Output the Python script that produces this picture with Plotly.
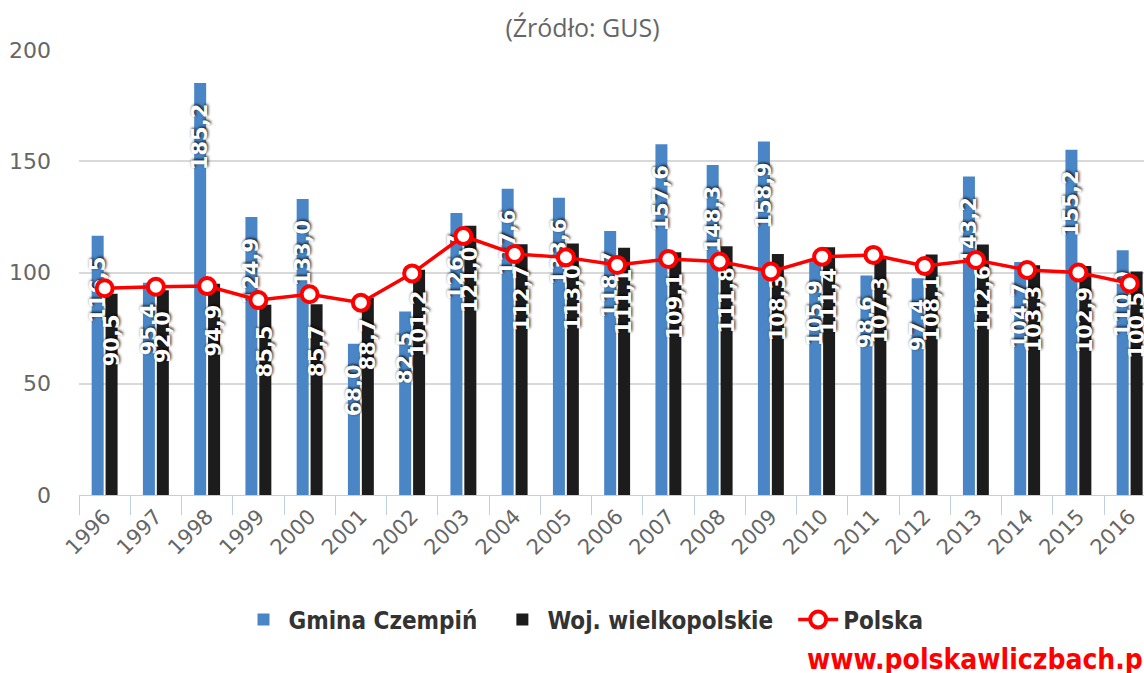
import plotly.graph_objects as go

years = [str(y) for y in range(1996, 2017)]
gmina = [116.5, 95.4, 185.2, 124.9, 133.0, 68.0, 82.5, 126.7, 137.6, 133.6, 118.7,
         157.6, 148.3, 158.9, 105.9, 98.6, 97.4, 143.2, 104.7, 155.2, 110.0]
woj = [90.5, 92.0, 94.9, 85.5, 85.7, 88.7, 101.2, 121.0, 112.7, 113.0, 111.1,
       109.1, 111.8, 108.3, 111.4, 107.3, 108.1, 112.6, 103.3, 102.9, 100.5]
polska = [92.9, 93.6, 93.9, 87.6, 90.2, 86.4, 99.6, 116.4, 108.3, 106.8, 103.4,
          106.1, 104.9, 100.4, 107.1, 107.9, 102.9, 105.6, 101.1, 100.0, 95.1]

PAD = "\u2002\u00a0"

def lab(vals):
    return [f"{v:.1f}".replace(".", ",") + PAD for v in vals]

label_font = dict(family="DejaVu Sans", size=21, color="white", weight="bold",
                  shadow="1px 1px 3px rgba(0,0,0,0.95)")

W, H = 1144, 673
L, T, B = 79, 50, 178

fig = go.Figure()
fig.add_trace(go.Bar(
    x=years, y=gmina, name="Gmina Czempiń\u00a0\u00a0",
    marker=dict(color="#4a86c6", line=dict(width=0)),
    text=lab(gmina), textposition="inside", insidetextanchor="end",
    textangle=-90, constraintext="none", insidetextfont=label_font,
    hoverinfo="x+y",
))
fig.add_trace(go.Bar(
    x=years, y=woj, name="Woj. wielkopolskie\u00a0\u00a0",
    marker=dict(color="#1c1c1c", line=dict(width=0)),
    text=lab(woj), textposition="inside", insidetextanchor="end",
    textangle=-90, constraintext="none", insidetextfont=label_font,
    hoverinfo="x+y",
))
fig.add_trace(go.Scatter(
    x=years, y=polska, name="Polska", mode="lines+markers",
    line=dict(color="#ff0000", width=3.5),
    marker=dict(symbol="circle", size=16, color="white",
                line=dict(color="#ff0000", width=4)),
))

pw = W - L
ph = H - T - B
fig.update_layout(
    width=W, height=H,
    margin=dict(l=L, r=0, t=T, b=B),
    paper_bgcolor="white", plot_bgcolor="white",
    barmode="group", bargap=0.457, bargroupgap=0.137,
    font=dict(family="DejaVu Sans", color="#666666"),
    title=dict(text="(Źródło: GUS)", x=582.5 / W, xanchor="center",
               y=1 - 28 / H, yanchor="middle",
               font=dict(family="Open Sans", size=25, color="#666666")),
    showlegend=True,
    legend=dict(orientation="h", x=(583.5 - 79) / pw, xanchor="center",
                y=(495 - 620) / ph, yanchor="middle",
                font=dict(family="DejaVu Sans Condensed", size=24, color="#333333", weight="bold"),
                itemwidth=40, traceorder="normal"),
    xaxis=dict(type="category", range=[-0.5, 20.28], tickson="boundaries",
               ticks="outside", ticklen=19, tickcolor="#c0d0e0", tickwidth=1,
               showline=True, linecolor="#c0d0e0", linewidth=1,
               tickangle=-45, tickfont=dict(family="DejaVu Sans", size=21, color="#666666"),
               showgrid=False),
    yaxis=dict(range=[0, 200], dtick=50, showgrid=True, gridcolor="#d9d9d9", gridwidth=1.5,
               zeroline=False, showline=False, ticks="",
               ticklabelstandoff=27,
               tickfont=dict(family="DejaVu Sans", size=22, color="#666666")),
    annotations=[dict(text="www.polskawliczbach.pl", xref="paper", yref="paper",
                      x=(805 - 79) / pw, xanchor="left", y=(495 - 659) / ph, yanchor="middle",
                      showarrow=False,
                      font=dict(family="DejaVu Sans Condensed", size=28, color="#ff0000", weight="bold"))],
)

fig.write_html("out.html", config={"displayModeBar": False},
               post_script="document.body.style.margin='0';document.body.style.overflow='hidden';")
